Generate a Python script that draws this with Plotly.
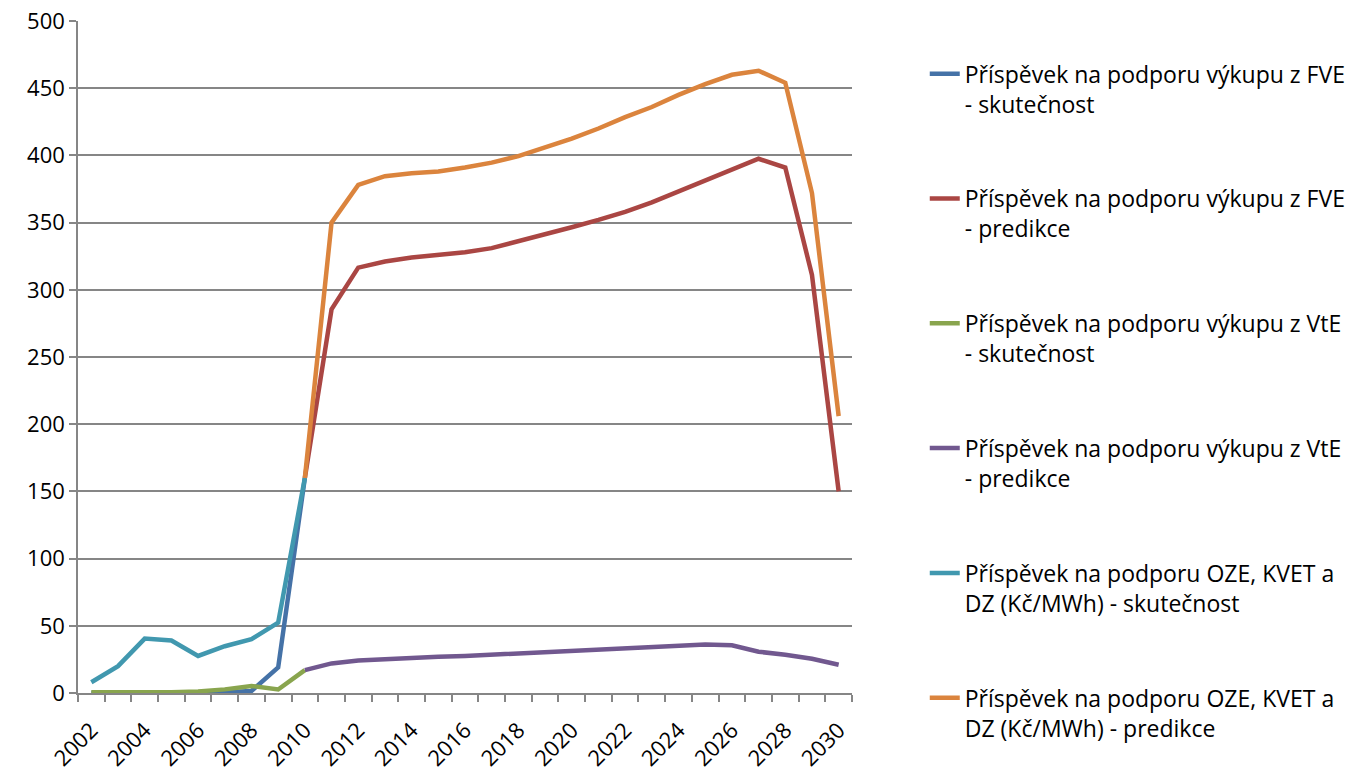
import plotly.graph_objects as go

years_actual = list(range(2002, 2011))
years_pred = list(range(2010, 2031))

fve_actual = [0, 0, 0, 0, 0, 0.5, 1.5, 19, 160]
vte_actual = [0.5, 0.5, 0, 0.5, 1.2, 2.7, 5.2, 2.6, 17]
oze_actual = [8, 20, 40.5, 39, 27.6, 34.8, 40, 52.3, 160]

fve_pred = [160, 285.5, 316.5, 321, 324, 326, 328, 331, 336, 341, 346.5, 352, 358, 365, 373, 381, 389, 397.5, 391, 311, 150]
vte_pred = [17, 22, 24.2, 25.3, 26, 27, 27.6, 28.5, 29.5, 30.5, 31.8, 32.7, 33.8, 34.7, 35.6, 36, 35.5, 30.7, 28.5, 25.5, 21]
oze_pred = [160, 350, 378, 384.5, 386.7, 388, 391, 394.6, 399.5, 406, 412.5, 420, 428.5, 436, 445, 453, 460, 463, 454, 372, 206]

names = [
    "Příspěvek na podporu výkupu z FVE<br>- skutečnost",
    "Příspěvek na podporu výkupu z FVE<br>- predikce",
    "Příspěvek na podporu výkupu z VtE<br>- skutečnost",
    "Příspěvek na podporu výkupu z VtE<br>- predikce",
    "Příspěvek na podporu OZE, KVET a<br>DZ (Kč/MWh) - skutečnost",
    "Příspěvek na podporu OZE, KVET a<br>DZ (Kč/MWh) - predikce",
]
colors = ["#4572A7", "#AA4643", "#89A54E", "#71588F", "#4198AF", "#DB843D"]
xs = [years_actual, years_pred, years_actual, years_pred, years_actual, years_pred]
ys = [fve_actual, fve_pred, vte_actual, vte_pred, oze_actual, oze_pred]

fig = go.Figure()
for i in range(6):
    fig.add_trace(go.Scatter(
        x=xs[i], y=ys[i], mode="lines", name=names[i],
        line=dict(color=colors[i], width=4.5),
        legendgroup=f"g{i}", legendrank=i + 1,
    ))

font_family = "'Open Sans', sans-serif"
fig.update_layout(
    width=1354, height=775,
    margin=dict(l=78, r=502, t=21, b=82, autoexpand=False),
    plot_bgcolor="white", paper_bgcolor="white",
    font=dict(family=font_family, size=22, color="black"),
    showlegend=True,
    legend=dict(
        x=1.094, y=0.9535, xanchor="left", yanchor="top",
        tracegroupgap=62, valign="top", maxheight=900,
        font=dict(family=font_family, size=23, color="black"),
    ),
    xaxis=dict(
        range=[2001.5, 2030.5],
        tickmode="array", tickvals=list(range(2002, 2031, 2)),
        ticktext=[str(y) for y in range(2002, 2031, 2)],
        tickangle=-45, ticks="", showgrid=False,
        showline=True, linecolor="#868686", linewidth=1.5,
        minor=dict(ticks="outside", tickmode="linear", tick0=2001.5, dtick=1,
                   ticklen=7, tickcolor="#868686", tickwidth=1.5, showgrid=False),
        zeroline=False, ticklabelstandoff=14, automargin=False,
        tickfont=dict(size=22),
    ),
    yaxis=dict(
        range=[0, 500], dtick=50, tick0=0,
        showgrid=True, gridcolor="#868686", gridwidth=1.5,
        showline=True, linecolor="#868686", linewidth=1.5,
        ticks="outside", ticklen=7, tickcolor="#868686", tickwidth=1.5,
        zeroline=False, tickfont=dict(size=22), ticklabeloverflow="allow",
        automargin=False,
    ),
)

fig.write_html("out.html", config={"displayModeBar": False},
               post_script="document.body.style.margin='0';")
